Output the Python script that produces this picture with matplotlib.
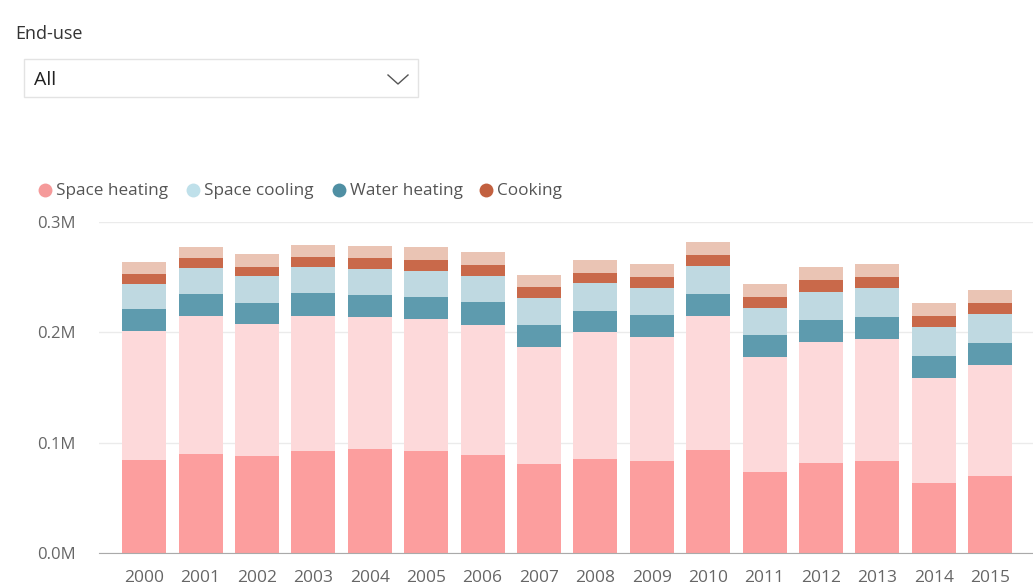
import matplotlib
matplotlib.use("Agg")
import matplotlib.pyplot as plt
from matplotlib.patches import Rectangle
from matplotlib.ticker import FuncFormatter

plt.rcParams['font.family'] = ['Open Sans', 'DejaVu Sans']

# values in units
years = [str(y) for y in range(2000, 2016)]
heating_hl = [84000, 90000, 88000, 92500, 94000, 92000, 89000, 81000,
              85000, 83000, 93000, 73000, 82000, 83000, 63500, 70000]
heating_rest = [117000, 125000, 120000, 122500, 120000, 120000, 118000, 106000,
                115000, 113000, 122000, 105000, 109000, 111000, 95500, 100000]
water = [20000, 20000, 19000, 21000, 20000, 20000, 20600, 19700,
         19000, 20000, 20000, 20000, 20000, 20000, 20000, 20000]
cooling = [23000, 23000, 24000, 23000, 23500, 23700, 23400, 24300,
           26000, 24000, 25000, 24000, 26000, 26000, 26000, 27000]
cooking_hl = [9000, 9000, 8000, 9000, 9500, 10000, 10000, 10000,
              9000, 10000, 10000, 10000, 10500, 10000, 10000, 10000]
cooking_rest = [11000, 10000, 12000, 11000, 11000, 11400, 12000, 11000,
                12000, 12000, 12000, 12000, 11500, 12000, 12000, 11000]

legend_names = ["Space heating", "Space cooling", "Water heating", "Cooking"]
legend_colors = ["#F59A9A", "#BFE0EA", "#4F8FA3", "#C2603F"]

W, H = 1033, 588
fig = plt.figure(figsize=(W / 100, H / 100), dpi=100)

ax = fig.add_axes([99 / W, 1 - 553 / H, 1 - 99 / W, (553 - 222) / H])
x = list(range(len(years)))
stack = [
    (heating_hl, "#FC9E9E"),
    (heating_rest, "#FDD9DA"),
    (water, "#5E9BAE"),
    (cooling, "#BFD9E1"),
    (cooking_hl, "#C9694A"),
    (cooking_rest, "#EAC4B4"),
]
bottom = [0] * len(years)
for vals, col in stack:
    ax.bar(x, vals, bottom=bottom, width=0.78, color=col, linewidth=0, zorder=2)
    bottom = [b + v for b, v in zip(bottom, vals)]

ax.set_xlim(-0.8, 15.76)
ax.set_ylim(0, 300000)
ax.set_yticks([0, 100000, 200000, 300000])
ax.yaxis.set_major_formatter(FuncFormatter(lambda v, p: f"{v / 1e6:.1f}M"))
ax.set_xticks(x)
ax.set_xticklabels(years)
ax.tick_params(axis='both', length=0, colors="#666666")
ax.tick_params(axis='x', pad=12, labelsize=12.5)
ax.tick_params(axis='y', pad=17, labelsize=12)
ax.grid(axis='y', color="#EBEBEB", linewidth=1, zorder=0)
for s in ["top", "right", "left"]:
    ax.spines[s].set_visible(False)
ax.spines["bottom"].set_color("#AAAAAA")
ax.spines["bottom"].set_zorder(3)

# overlay in pixel coordinates for slicer and legend
ov = fig.add_axes([0, 0, 1, 1], zorder=5)
ov.set_xlim(0, W)
ov.set_ylim(H, 0)
ov.axis("off")
ov.patch.set_alpha(0)

ov.text(15, 34, "End-use", fontsize=13, color="#333333", va="center", ha="left")
ov.add_patch(Rectangle((24, 59), 394, 38, facecolor="white", edgecolor="#E3E3E3", linewidth=1))
ov.text(34, 80, "All", fontsize=14, color="#222222", va="center", ha="left")
ov.plot([388, 398, 408], [75, 84, 75], color="#555555", linewidth=1)

leg_x = [45, 193, 339, 486]
for lx, name, col in zip(leg_x, legend_names, legend_colors):
    ov.plot(lx, 190, marker="o", markersize=10, color=col, markeredgewidth=0)
    ov.text(lx + 11, 191, name, fontsize=12.3, color="#555555", va="center", ha="left")

fig.savefig("out.png", dpi=100)
